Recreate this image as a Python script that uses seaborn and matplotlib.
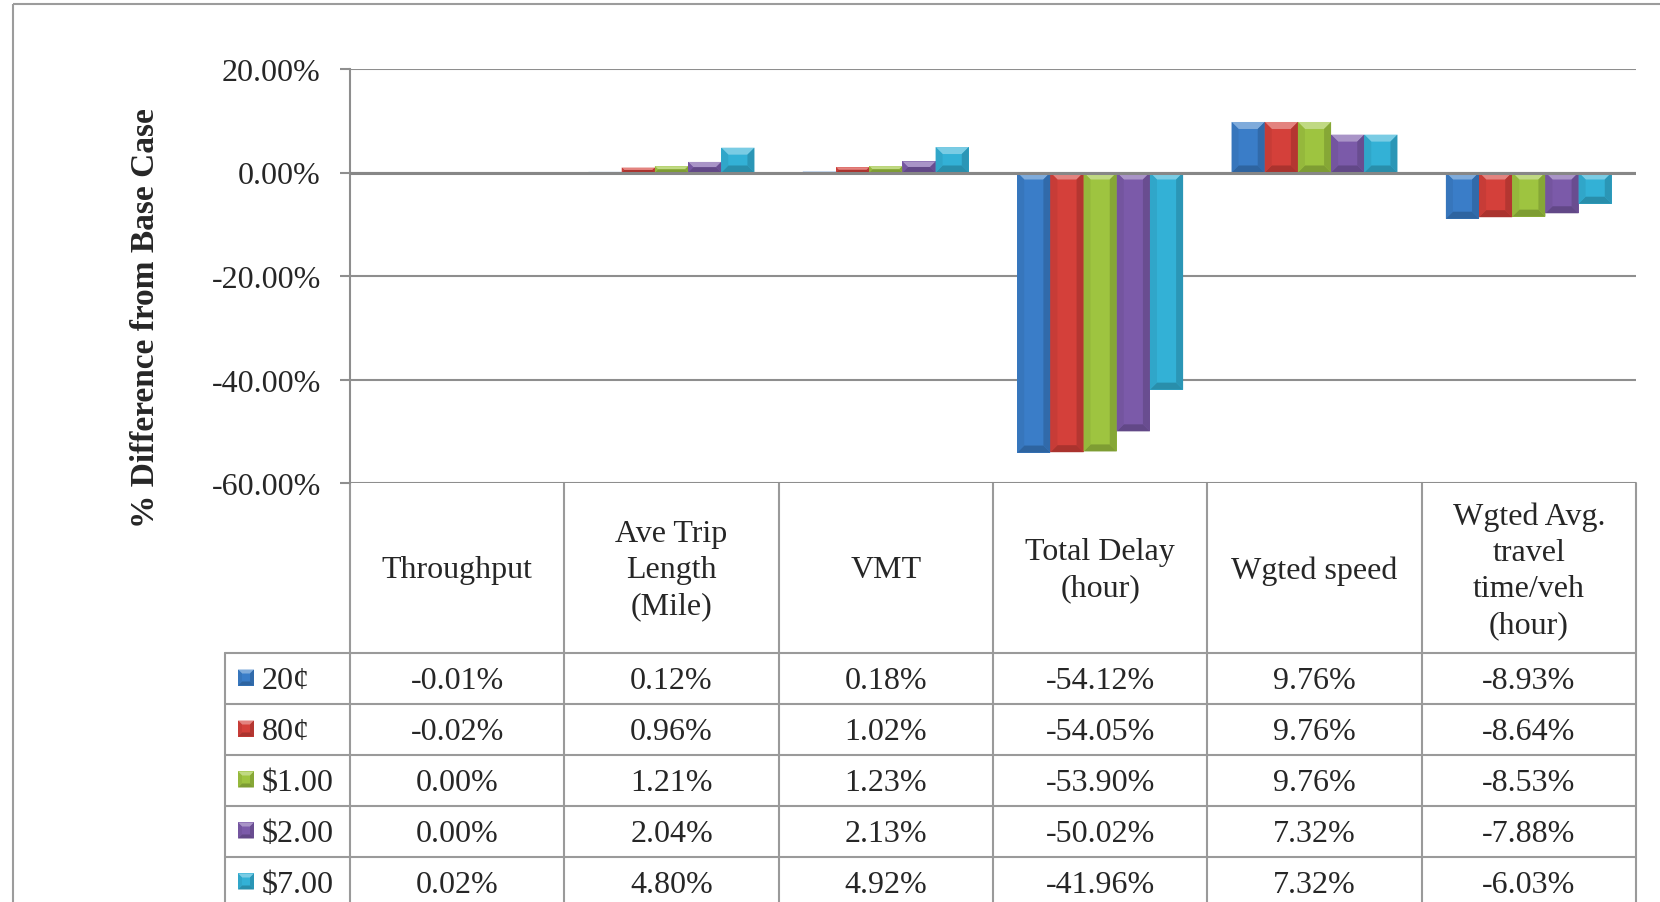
import matplotlib
matplotlib.use("Agg")
import numpy as np
import pandas as pd
import matplotlib.pyplot as plt
import matplotlib.colors as mcolors
from matplotlib.patches import Polygon, Rectangle
import seaborn as sns

# ---- data ---------------------------------------------------------------
categories = ["Throughput", "Ave Trip Length (Mile)", "VMT", "Total Delay (hour)",
              "Wgted speed", "Wgted Avg. travel time/veh (hour)"]
header_labels = ["Throughput", "Ave Trip\nLength\n(Mile)", "VMT", "Total Delay\n(hour)",
                 "Wgted speed", "Wgted Avg.\ntravel\ntime/veh\n(hour)"]
scenarios = ["20¢", "80¢", "$1.00", "$2.00", "$7.00"]

toll_20c = [-0.01, 0.12, 0.18, -54.12, 9.76, -8.93]
toll_80c = [-0.02, 0.96, 1.02, -54.05, 9.76, -8.64]
toll_1 = [0.00, 1.21, 1.23, -53.90, 9.76, -8.53]
toll_2 = [0.00, 2.04, 2.13, -50.02, 7.32, -7.88]
toll_7 = [0.02, 4.80, 4.92, -41.96, 7.32, -6.03]

y_ticks = [20, 0, -20, -40, -60]
palette = ["#3A7DC8", "#D4403A", "#9EC440", "#7B5AA9", "#33B1D6"]

series = [toll_20c, toll_80c, toll_1, toll_2, toll_7]
df = pd.DataFrame([
    {"metric": c, "scenario": s, "value": v}
    for s, vals in zip(scenarios, series)
    for c, v in zip(categories, vals)
])

# ---- style --------------------------------------------------------------
sns.set_theme(style="white")
plt.rcParams["font.family"] = ["Liberation Serif", "DejaVu Serif"]
plt.rcParams["text.parse_math"] = False

W, H = 1660, 903
fig = plt.figure(figsize=(W / 100, H / 100), dpi=100)
fig.patch.set_facecolor("white")

# overlay in pixel units for the frame and the data table
tab = fig.add_axes([0, 0, 1, 1])
tab.set_xlim(0, W)
tab.set_ylim(H, 0)
tab.set_axis_off()

left_px, right_px, top_px, bot_px = 350, 1636, 70, 484
ax = fig.add_axes([left_px / W, 1 - bot_px / H, (right_px - left_px) / W, (bot_px - top_px) / H])
ax.patch.set_alpha(0)

sns.barplot(data=df, x="metric", y="value", hue="scenario", order=categories,
            hue_order=scenarios, palette=palette, width=0.774, gap=0,
            saturation=1, linewidth=0, legend=False, ax=ax, zorder=2)

ax.set_xlim(-0.5, len(categories) - 0.5)
ax.set_ylim(-60, 20)
ax.set_yticks(y_ticks)
ax.set_yticklabels([f"{t:.2f}%" for t in y_ticks], fontsize=23)
ax.set_xticks([])
ax.set_xlabel("")
ax.set_ylabel("")
grid_c = "#8E8E8E"
ax.yaxis.grid(True, color=grid_c, linewidth=1.5)
ax.set_axisbelow(True)
for side in ["top", "right", "bottom"]:
    ax.spines[side].set_visible(False)
ax.spines["left"].set_color(grid_c)
ax.spines["left"].set_linewidth(1.5)
ax.tick_params(axis="y", length=7, width=1.5, color=grid_c, pad=14, left=True)
ax.axhline(0, color="#878787", linewidth=2.2, zorder=4)


def shade(c, f):
    r, g, b = mcolors.to_rgb(c)
    if f >= 0:
        return (r + (1 - r) * f, g + (1 - g) * f, b + (1 - b) * f)
    return (r * (1 + f), g * (1 + f), b * (1 + f))


def bevel(target, px0, py0, px1, py1, base, depth, z):
    """Draw bevelled faces on a box given in display pixels (py1 is the top)."""
    inv = target.transData.inverted()
    b = min(depth, (py1 - py0) / 2, (px1 - px0) / 2)
    faces = [
        ([(px0, py1), (px1, py1), (px1 - b, py1 - b), (px0 + b, py1 - b)], shade(base, 0.35)),
        ([(px0, py0), (px1, py0), (px1 - b, py0 + b), (px0 + b, py0 + b)], shade(base, -0.20)),
        ([(px0, py0), (px0, py1), (px0 + b, py1 - b), (px0 + b, py0 + b)], shade(base, -0.06)),
        ([(px1, py0), (px1, py1), (px1 - b, py1 - b), (px1 - b, py0 + b)], shade(base, -0.15)),
    ]
    for pts, col in faces:
        target.add_patch(Polygon(inv.transform(pts), closed=True, facecolor=col,
                                 edgecolor="none", zorder=z))


for p in list(ax.patches):
    x0, w = p.get_x(), p.get_width()
    y0, h = p.get_y(), p.get_height()
    a = ax.transData.transform((x0, min(y0, y0 + h)))
    c = ax.transData.transform((x0 + w, max(y0, y0 + h)))
    if c[1] - a[1] < 0.6:
        continue
    bevel(ax, a[0], a[1], c[0], c[1], p.get_facecolor(), 7, 2.5)

# y axis title
fig.text(146 / W, 1 - 318 / H, "% Difference from Base Case", rotation=90,
         ha="center", va="center", fontsize=24, fontweight="bold")

# ---- data table under the plot -----------------------------------------
line_c = "#9A9A9A"
lw = 1.5
col_x = [ax.transData.transform((k - 0.5, 0))[0] for k in range(len(categories) + 1)]
plot_bottom = H - ax.transData.transform((0, -60))[1]
header_bottom = 654
row_h = 51
legend_left = 225
n_rows = len(scenarios)
table_bottom = header_bottom + row_h * n_rows

for xk in col_x:
    tab.plot([xk, xk], [plot_bottom, table_bottom], color=line_c, lw=lw, zorder=1)
tab.plot([legend_left, legend_left], [header_bottom, table_bottom], color=line_c, lw=lw, zorder=1)
for r in range(n_rows + 1):
    yy = header_bottom + r * row_h
    tab.plot([legend_left, col_x[-1]], [yy, yy], color=line_c, lw=lw, zorder=1)

header_mid = (plot_bottom + header_bottom) / 2
for k, lab in enumerate(header_labels):
    xc = (col_x[k] + col_x[k + 1]) / 2
    tab.text(xc, header_mid + 2, lab, ha="center", va="center", multialignment="center",
             fontsize=23, linespacing=1.32)

for r, (s, vals, col) in enumerate(zip(scenarios, series, palette)):
    yc = header_bottom + (r + 0.5) * row_h + 2
    for k, v in enumerate(vals):
        xc = (col_x[k] + col_x[k + 1]) / 2
        tab.text(xc, yc, f"{v:.2f}%", ha="center", va="center", fontsize=23)
    # legend key
    sq = 16
    kx0, ky_top = 238, yc - sq / 2 - 3
    tab.add_patch(Rectangle((kx0, ky_top), sq, sq, facecolor=col, edgecolor="none", zorder=3))
    d0 = tab.transData.transform((kx0, ky_top + sq))
    d1 = tab.transData.transform((kx0 + sq, ky_top))
    bevel(tab, d0[0], d0[1], d1[0], d1[1], col, 4, 4)
    tab.text(262, yc, s, ha="left", va="center", fontsize=23)

# outer chart frame
tab.add_patch(Rectangle((12.7, 5.3), 2000, 2000, fill=False, edgecolor="#9C9C9C",
                        linewidth=1.5, clip_on=False, zorder=0))

fig.savefig("out.png", dpi=100)
